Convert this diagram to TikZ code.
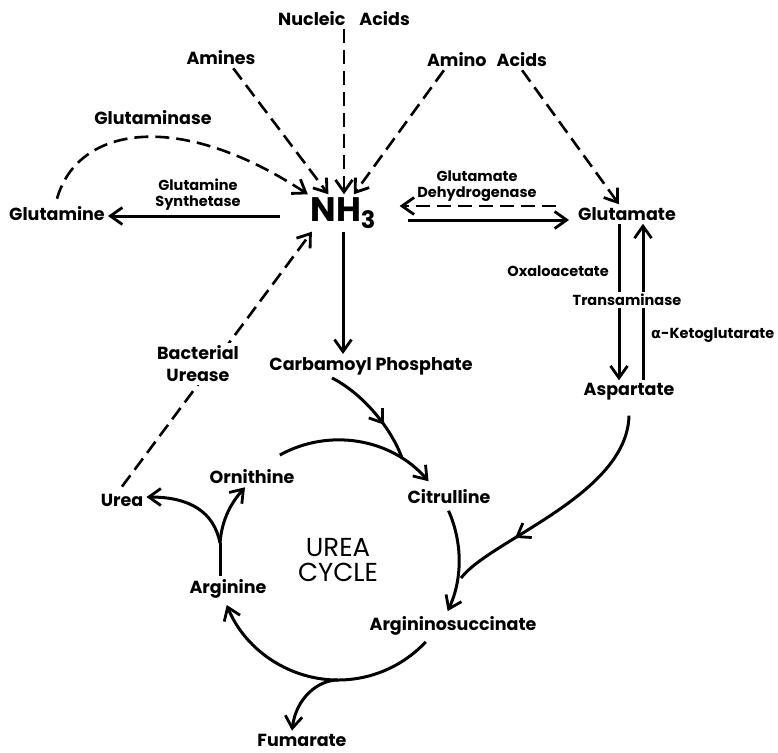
\documentclass[tikz,border=0pt]{standalone}
\usepackage{fontspec}
\setmainfont{Poppins}
\newfontfamily\grk{DejaVu Sans}
\usetikzlibrary{arrows.meta, decorations.markings}
\tikzset{
  barb/.tip={Straight Barb[length=12pt, width=17pt, line width=2.8pt]},
  lbl/.style={font=\bfseries\fontsize{17.5}{22}\selectfont, inner sep=3pt, align=center},
  sml/.style={font=\bfseries\fontsize{14.5}{16}\selectfont, inner sep=2pt, align=center},
  nh/.style={font=\bfseries\fontsize{34}{34}\selectfont, inner sep=3pt},
  big/.style={font=\fontsize{26}{25}\selectfont, align=center},
  arr/.style={-barb, line width=3pt},
  dsh/.style={-barb, line width=2.6pt, dash pattern=on 14pt off 7pt},
  crv/.style={line width=3pt},
  mid/.style={postaction={decorate}, decoration={markings, mark=at position #1 with {\arrow{barb}}}}
}

\begin{document}
\begin{tikzpicture}[x=1pt, y=-1pt]
  \useasboundingbox (0,0) rectangle (778,752);

  % sources of ammonia
  \node[lbl] (nuc) at (344,19) {Nucleic\hspace{14pt}Acids};
  \node[lbl] (amines) at (221,58) {Amines};
  \node[lbl] (amino) at (487,60) {Amino\hspace{10pt}Acids};
  \node[lbl] (glnase) at (153,118) {Glutaminase};
  \node[lbl] (gln) at (57,214) {Glutamine};
  \node[nh] (nh3) at (343,213) {NH\raisebox{-7pt}{\fontsize{24}{24}\selectfont 3}};
  \node[lbl] (glu) at (627,214) {Glutamate};
  \node[sml] (gs) at (198,195) {Glutamine\\Synthetase};
  \node[sml] (gdh) at (477,186) {Glutamate\\Dehydrogenase};
  \node[lbl] (cp) at (371,366) {Carbamoyl Phosphate};
  \node[lbl] (asp) at (629,392) {Aspartate};
  \node[sml, anchor=east] (oaa) at (611,271) {Oxaloacetate};
  \node[sml, anchor=west] (akg) at (649,335) {{\grk α}-Ketoglutarate};

  % urea cycle
  \node[lbl] (urea) at (122,500) {Urea};
  \node[lbl] (orn) at (252,477) {Ornithine};
  \node[lbl] (cit) at (449,497) {Citrulline};
  \node[big] (cycle) at (338,560) {UREA\\CYCLE};
  \node[lbl] (arg) at (228,589) {Arginine};
  \node[lbl] (asuc) at (453,626) {Argininosuccinate};
  \node[lbl] (fum) at (302,740) {Fumarate};

  \coordinate (cpjoin) at (402,458);
  \coordinate (aspjoin) at (461,578);
  \coordinate (argfork) at (220,543);

  % into NH3
  \draw[dsh] (nuc.south) -- (nuc.south |- nh3.north);
  \draw[dsh] (amines.-40) -- (nh3.128);
  \draw[dsh] ([xshift=20pt]amino.south west) -- (nh3.60);
  \draw[dsh] ([xshift=-28pt]amino.south east) -- ([xshift=-8pt]glu.north);
  \draw[dsh] ([yshift=5pt]gln.north) .. controls (78,125) and (180,110) .. (nh3.152);
  \draw[arr, shorten <=27pt] ([yshift=-3pt]nh3.west) -- ([yshift=-3pt]nh3.west -| gln.east);
  \draw[dsh, shorten <=19pt, shorten >=21pt] ([yshift=8pt]glu.west) -- ([yshift=8pt]glu.west -| nh3.east);
  \draw[arr, shorten <=29pt, shorten >=6pt] ([yshift=-7pt]nh3.east) -- ([yshift=-7pt]nh3.east -| glu.west);
  \draw[arr] (nh3.south) -- (nh3.south |- cp.north);
  \draw[dsh] ([yshift=4pt]urea.north) -- (nh3.211);
  \node[lbl, fill=white] (bu) at (198,364) {Bacterial\\Urease};

  % transamination
  \draw[arr] ([xshift=-8pt]glu.south) -- ([xshift=-8pt]glu.south |- asp.north);
  \draw[arr] ([xshift=16pt]glu.south |- asp.north) -- ([xshift=16pt]glu.south);
  \node[sml, fill=white] (tam) at (627,300) {Transaminase};

  % cycle
  \draw[crv, mid=0.65] ([xshift=-39pt]cp.south) .. controls (360,392) and (390,425) .. (cpjoin);
  \draw[arr] (cycle.center) ++(-119:120) arc[start angle=-119, end angle=-41, radius=120];
  \draw[arr] (cycle.center) ++(-24:121) arc[start angle=-24, end angle=25, radius=121];
  \draw[crv, mid=0.72] ([yshift=-12pt]asp.south) .. controls (627,495) and (490,540) .. (aspjoin);
  \draw[arr] (cycle.center) ++(43:120) arc[start angle=43, end angle=158, radius=120];
  \draw[arr] (cycle.center) ++(90:120) .. controls (318,680) and (296,698) .. ([xshift=-10pt]fum.north);
  \draw[crv] ([xshift=-8pt]arg.north) -- (argfork);
  \draw[arr] (argfork) .. controls (214,512) and (190,497) .. ([yshift=3pt]urea.east);
  \draw[arr] (argfork) .. controls (222,518) and (232,502) .. ([xshift=-7pt]orn.south);
\end{tikzpicture}
\end{document}
